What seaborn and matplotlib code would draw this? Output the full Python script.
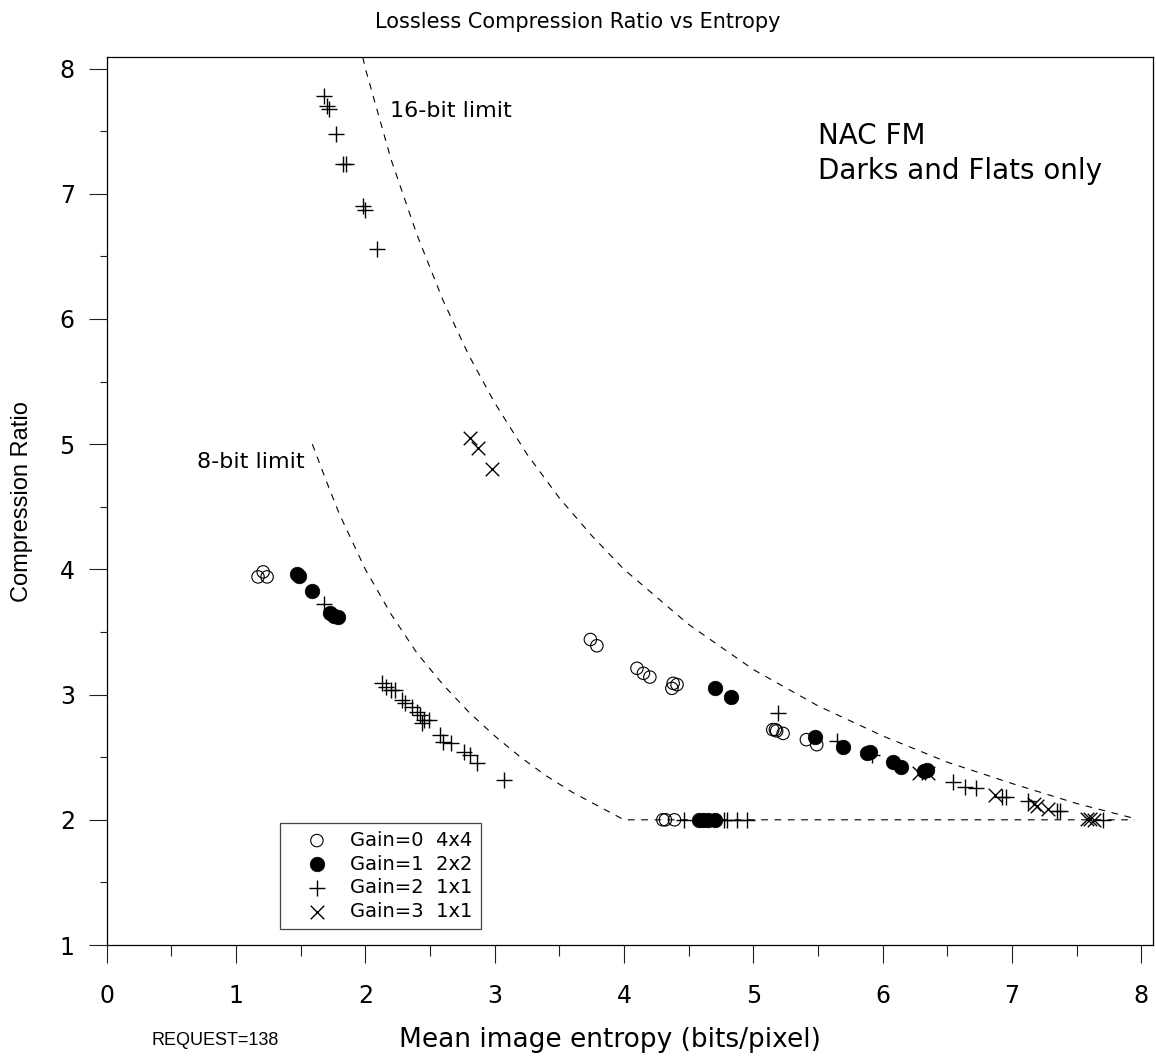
import matplotlib
matplotlib.use('Agg')
import matplotlib.pyplot as plt
from matplotlib import font_manager
from matplotlib.ticker import MultipleLocator
import seaborn as sns

# Gain=0 4x4 (open circles)
x0 = [1.17, 1.21, 1.24, 3.74, 3.79, 4.10, 4.15, 4.20, 4.37, 4.38, 4.41,
      5.15, 5.17, 5.18, 5.23, 5.41, 5.49, 4.30, 4.32, 4.39]
y0 = [3.94, 3.98, 3.94, 3.44, 3.39, 3.21, 3.17, 3.14, 3.05, 3.09, 3.08,
      2.72, 2.72, 2.71, 2.69, 2.64, 2.60, 2.00, 2.00, 2.00]

# Gain=1 2x2 (filled circles)
x1 = [1.47, 1.49, 1.59, 1.73, 1.76, 1.79, 4.70, 4.83, 5.48, 5.69,
      5.88, 5.90, 6.08, 6.14, 6.32, 6.34, 4.58, 4.61, 4.65, 4.70]
y1 = [3.96, 3.95, 3.83, 3.65, 3.63, 3.62, 3.05, 2.98, 2.66, 2.58,
      2.53, 2.54, 2.46, 2.42, 2.39, 2.40, 2.00, 2.00, 2.00, 2.00]

# Gain=2 1x1 (plus)
x2 = [1.68, 1.70, 1.72, 1.77, 1.83, 1.85, 1.98, 2.00, 2.09, 1.68,
      2.13, 2.16, 2.20, 2.23, 2.28, 2.31, 2.36, 2.40, 2.42, 2.45, 2.49, 2.44,
      2.58, 2.60, 2.66, 2.76, 2.81, 2.86, 3.07,
      4.46, 4.77, 4.80, 4.87, 4.95,
      5.19, 5.65, 5.92,
      6.54, 6.64, 6.72, 6.92, 6.95, 7.12, 7.35, 7.37, 7.70]
y2 = [7.78, 7.70, 7.68, 7.48, 7.24, 7.24, 6.90, 6.87, 6.56, 3.72,
      3.09, 3.06, 3.04, 3.04, 2.96, 2.93, 2.90, 2.86, 2.84, 2.80, 2.80, 2.77,
      2.68, 2.62, 2.61, 2.54, 2.52, 2.45, 2.32,
      2.00, 2.00, 2.00, 2.00, 2.00,
      2.85, 2.63, 2.52,
      2.30, 2.26, 2.25, 2.18, 2.18, 2.15, 2.07, 2.07, 2.00]

# Gain=3 1x1 (x)
x3 = [2.81, 2.87, 2.98, 6.28, 6.35, 6.87, 7.17, 7.19, 7.28, 7.58, 7.60, 7.63]
y3 = [5.05, 4.97, 4.80, 2.37, 2.37, 2.20, 2.13, 2.11, 2.09, 2.01, 2.01, 2.00]

# limit curves
x16 = [1.98, 2.0, 2.2, 2.4, 2.6, 2.8, 3.0, 3.25, 3.5, 3.75, 4.0, 4.5,
       5.0, 5.5, 6.0, 6.5, 7.0, 7.5, 7.95]
y16 = [8.09, 8.0, 7.27, 6.67, 6.15, 5.71, 5.33, 4.92, 4.57, 4.27, 4.0, 3.56,
       3.2, 2.91, 2.67, 2.46, 2.29, 2.13, 2.01]
x8 = [1.59, 1.7, 1.8, 2.0, 2.2, 2.4, 2.6, 2.8, 3.0, 3.2, 3.4, 3.6, 3.8, 4.0, 7.95]
y8 = [5.0, 4.7, 4.44, 4.0, 3.64, 3.33, 3.08, 2.86, 2.67, 2.5, 2.35, 2.22, 2.11, 2.0, 2.0]

sns.set_theme(style='ticks')
plt.rcParams['font.family'] = ['DejaVu Sans']
plt.rcParams['text.color'] = 'black'
plt.rcParams['axes.labelcolor'] = 'black'
names = {f.name for f in font_manager.fontManager.ttflist}
narrow = 'Liberation Sans Narrow' if 'Liberation Sans Narrow' in names else 'Liberation Sans'

fig, ax = plt.subplots(figsize=(11.56, 10.63), dpi=100)
fig.subplots_adjust(left=0.0923, right=0.9974, top=0.9461, bottom=0.1110)

dash = (0, (6, 6))
sns.lineplot(x=x16, y=y16, estimator=None, sort=False, color='black',
             lw=0.8, linestyle=dash, ax=ax)
sns.lineplot(x=x8, y=y8, estimator=None, sort=False, color='black',
             lw=0.8, linestyle=dash, ax=ax)

sns.scatterplot(x=x0, y=y0, marker='o', s=80, facecolor='none',
                edgecolor='black', linewidth=0.8, label='Gain=0  4x4', ax=ax)
sns.scatterplot(x=x1, y=y1, marker='o', s=110, color='black',
                edgecolor='black', linewidth=0.5, label='Gain=1  2x2', ax=ax)
sns.scatterplot(x=x2, y=y2, marker='+', s=120, color='black',
                linewidth=1.0, label='Gain=2  1x1', ax=ax)
sns.scatterplot(x=x3, y=y3, marker='x', s=95, color='black',
                linewidth=1.0, label='Gain=3  1x1', ax=ax)

ax.set_xlim(0, 8.09)
ax.set_ylim(1, 8.09)
ax.xaxis.set_major_locator(MultipleLocator(1))
ax.xaxis.set_minor_locator(MultipleLocator(0.5))
ax.yaxis.set_major_locator(MultipleLocator(1))
ax.yaxis.set_minor_locator(MultipleLocator(0.5))
ax.tick_params(axis='both', which='major', length=13, width=0.8,
               color='#222222', labelsize=17, labelcolor='black')
ax.tick_params(axis='x', which='major', pad=15)
ax.tick_params(axis='y', which='major', pad=10)
ax.tick_params(axis='x', which='minor', length=8, width=0.8, color='#222222')
ax.tick_params(axis='y', which='minor', length=5.4, width=0.8, color='#222222')
for sp in ax.spines.values():
    sp.set_color('black')
    sp.set_linewidth(0.9)

ax.text(2.19, 7.66, '16-bit limit', fontsize=16, ha='left', va='center')
ax.text(0.70, 4.86, '8-bit limit', fontsize=16, ha='left', va='center')
ax.text(5.5, 7.46, 'NAC FM', fontsize=20, ha='left', va='center')
ax.text(5.5, 7.18, 'Darks and Flats only', fontsize=20, ha='left', va='center')

ax.set_xlabel('Mean image entropy (bits/pixel)', fontsize=19, va='center')
ax.xaxis.set_label_coords(0.481, -0.107)
ax.set_ylabel('Compression Ratio', fontsize=17, family=narrow, va='center')
ax.yaxis.set_label_coords(-0.081, 0.5)

fig.text(0.5, 0.979, 'Lossless Compression Ratio vs Entropy', fontsize=15,
         ha='center', va='center')
fig.text(0.131, 0.0216, 'REQUEST=138', fontsize=13, family=narrow,
         ha='left', va='center')

leg = ax.legend(loc='lower left', bbox_to_anchor=(0.1656, 0.018),
                borderaxespad=0, fontsize=14, frameon=True, fancybox=False,
                framealpha=1, edgecolor='#444444', borderpad=0.4,
                handlelength=3.0, handletextpad=0.22, labelspacing=0.25)
leg.get_frame().set_linewidth(0.9)

fig.savefig('out.png', dpi=100)
